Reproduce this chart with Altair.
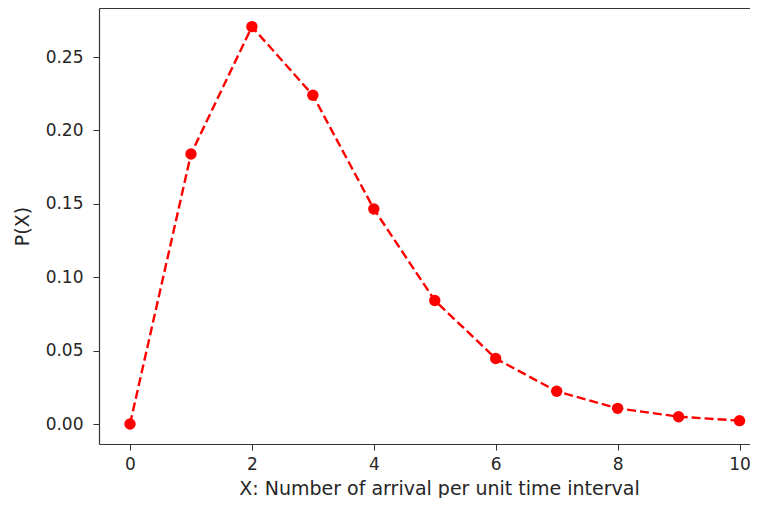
import altair as alt
import pandas as pd

x_vals = [0, 1, 2, 3, 4, 5, 6, 7, 8, 9, 10]
p_vals = [0.0, 0.1839, 0.2707, 0.2240, 0.1465, 0.0842, 0.0446, 0.0223, 0.0107, 0.0050, 0.0023]
y_ticks = [0.0, 0.05, 0.10, 0.15, 0.20, 0.25]
x_ticks = [0, 2, 4, 6, 8, 10]

df = pd.DataFrame({"x": x_vals, "p": p_vals})

font = "DejaVu Sans"
txt = "#262626"
spine = "#333333"
lfs = 17
tfs = 19

xscale = alt.Scale(domain=[-0.509, 10.172], nice=False, zero=False)
yscale = alt.Scale(domain=[-0.0136, 0.2834], nice=False, zero=False)

xaxis = alt.Axis(values=x_ticks, title="X: Number of arrival per unit time interval",
                 grid=False, tickSize=6, tickColor=spine, domainColor=spine, domainWidth=1.2,
                 labelFont=font, labelFontSize=lfs, labelColor=txt, labelPadding=6,
                 titleFont=font, titleFontSize=tfs, titleColor=txt, titleFontWeight="normal",
                 titleX=340, titleY=50, titleAlign="center", titleBaseline="alphabetic",
                 labelFlush=False)
yaxis = alt.Axis(values=y_ticks, format=".2f", title="P(X)",
                 grid=False, tickSize=6, tickColor=spine, domainColor=spine, domainWidth=1.2,
                 labelFont=font, labelFontSize=lfs, labelColor=txt, labelPadding=10,
                 titleFont=font, titleFontSize=tfs, titleColor=txt, titleFontWeight="normal",
                 titlePadding=13, labelFlush=False)

base = alt.Chart(df)

line = base.mark_line(color="#ff0000", strokeDash=[9, 4], strokeWidth=2.4).encode(
    x=alt.X("x:Q", scale=xscale, axis=xaxis),
    y=alt.Y("p:Q", scale=yscale, axis=yaxis),
)
pts = base.mark_circle(color="#ff0000", size=130, opacity=1).encode(
    x=alt.X("x:Q", scale=xscale, axis=None),
    y=alt.Y("p:Q", scale=yscale, axis=yaxis),
)
top = base.mark_point(opacity=0).encode(
    x=alt.X("x:Q", scale=xscale,
            axis=alt.Axis(orient="top", title=None, labels=False, ticks=False, grid=False,
                          domainColor=spine, domainWidth=1.2)),
)

chart = alt.layer(line, pts, top).resolve_axis(x="independent").properties(
    width=651, height=436,
    autosize=alt.AutoSizeParams(type="none"),
    padding={"left": 91, "top": 0, "right": 0, "bottom": 54},
).configure_view(stroke=None)

chart.save("out.html", embed_options={"renderer": "svg", "actions": False})
